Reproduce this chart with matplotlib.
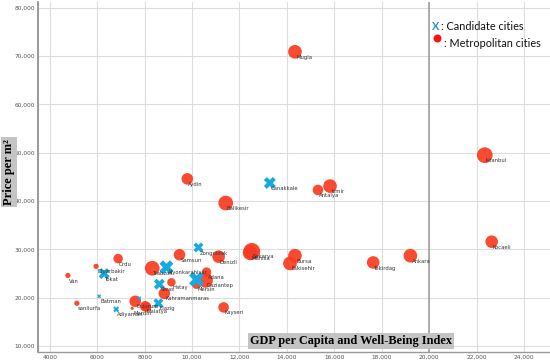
import matplotlib
matplotlib.use("Agg")
import matplotlib.pyplot as plt
from matplotlib.ticker import FuncFormatter

# ---- data ----
metro_names = ["Mugla", "Istanbul", "Kocaeli", "Aydin", "Balikesir", "Antalya", "Izmir",
               "Sakarya", "Manisa", "Bursa", "Eskisehir", "Tekirdag", "Ankara", "Samsun",
               "Denizli", "Trabzon", "Adana", "Gaziantep", "Mersin", "Hatay",
               "Kahramanmaras", "Kayseri", "Van", "Diyarbakir", "Ordu", "sanliurfa",
               "Erzurum", "Mardin", "Malatya", ""]
metro_gdp = [14340, 22350, 22640, 9800, 11420, 15310, 15820,
             12520, 12450, 14340, 14130, 17640, 19210, 9470,
             11120, 8320, 10610, 10570, 10190, 9130,
             8830, 11330, 4760, 5950, 6880, 5140,
             7600, 7475, 8025, 8080]
metro_price = [70900, 49500, 31600, 44600, 39600, 42300, 43100,
               29600, 29300, 28700, 27100, 27300, 28700, 28900,
               28500, 26100, 25300, 23600, 22800, 23200,
               20900, 18000, 24600, 26500, 28100, 18850,
               19260, 17800, 18230, 18100]
metro_size = [13, 15, 12, 11, 14, 10, 13,
              16, 14, 13, 13, 12, 13, 11,
              12, 14, 9, 14, 9, 8,
              11, 10, 5, 5, 9, 5,
              11, 3, 10, 9]

cand_names = ["Canakkale", "Zonguldak", "Afyonkarahisar", "", "Sivas", "Elazig",
              "Tokat", "Batman", "Adiyaman", ""]
cand_gdp = [13280, 10270, 8920, 10190, 8620, 8580, 6290, 6080, 6800, 7770]
cand_price = [43750, 30400, 26300, 23800, 22800, 18850, 25000, 20300, 17600, 19900]
cand_size = [12, 10, 14, 15, 11, 10, 11, 4, 6, 4]

x_ticks = [4000, 6000, 8000, 10000, 12000, 14000, 16000, 18000, 20000, 22000, 24000]
y_ticks = [10000, 20000, 30000, 40000, 50000, 60000, 70000, 80000]

RED = "#F93A20"
BLUE = "#18A9E1"

fig = plt.figure(figsize=(5.5, 3.62), dpi=100)
ax = fig.add_axes([38 / 550, 10 / 362, 512 / 550, 350 / 362])

px2pt = 72 / 100.0
ax.scatter(metro_gdp, metro_price, s=[(d * 1.05 * px2pt) ** 2 for d in metro_size],
           color=RED, alpha=0.92, linewidths=0, zorder=3)
ax.scatter(cand_gdp, cand_price, s=[(d * px2pt) ** 2 for d in cand_size],
           color=BLUE, marker="X", linewidths=0, zorder=4)

for n, x, y in list(zip(metro_names, metro_gdp, metro_price)) + list(zip(cand_names, cand_gdp, cand_price)):
    if n:
        ax.annotate(n, (x, y), xytext=(0.8, -4), textcoords="offset points",
                    ha="left", va="center", fontsize=3.8, color="#333333", zorder=5)

ax.set_xlim(3500, 25100)
ax.set_ylim(8770, 81200)
ax.set_xticks(x_ticks)
ax.set_yticks(y_ticks)
ax.xaxis.set_major_formatter(FuncFormatter(lambda v, p: f"{int(v):,}" if v >= 10000 else f"{int(v)}"))
ax.yaxis.set_major_formatter(FuncFormatter(lambda v, p: f"{int(v):,}"))
ax.tick_params(axis="both", length=0, labelsize=4.2, labelcolor="#555555")
ax.tick_params(axis="x", pad=2)
ax.tick_params(axis="y", pad=2)
ax.grid(True, color="#dddddd", linewidth=0.8, zorder=0)
ax.set_axisbelow(True)
ax.axvline(20000, color="#a0a0a0", linewidth=1.2, zorder=1)
for s in ["top", "right"]:
    ax.spines[s].set_visible(False)
ax.spines["left"].set_color("#888888")
ax.spines["left"].set_linewidth(1.2)
ax.spines["bottom"].set_color("#999999")
ax.spines["bottom"].set_linewidth(1.0)

ax.text(0.611, 0.031, "GDP per Capita and Well-Being Index", transform=ax.transAxes,
        ha="center", va="center", fontsize=8.8, fontweight="bold", family="Liberation Serif",
        bbox=dict(facecolor="#c4c4c4", edgecolor="none", pad=1.2), zorder=6)
fig.text(9 / 550, 1 - 172 / 362, "Price per m\u00b2", rotation=90, ha="center", va="center",
         fontsize=9, fontweight="bold", family="Liberation Serif",
         bbox=dict(facecolor="#c4c4c4", edgecolor="none", pad=1.2))

# legend
ax.text(0.777, 0.931, "X", transform=ax.transAxes, ha="center", va="center",
        fontsize=7.8, fontweight="bold", color="#1F8FD0", family="Lato")
ax.text(0.788, 0.931, ": Candidate cities", transform=ax.transAxes, ha="left", va="center",
        fontsize=7.8, color="#111111", family="Lato")
ax.scatter([0.779], [0.898], s=(8 * px2pt) ** 2, color="#FF1010", transform=ax.transAxes,
           linewidths=0, zorder=6, clip_on=False)
ax.text(0.792, 0.882, ": Metropolitan cities", transform=ax.transAxes, ha="left", va="center",
        fontsize=7.8, color="#111111", family="Lato")

fig.savefig("out.png", dpi=100)
